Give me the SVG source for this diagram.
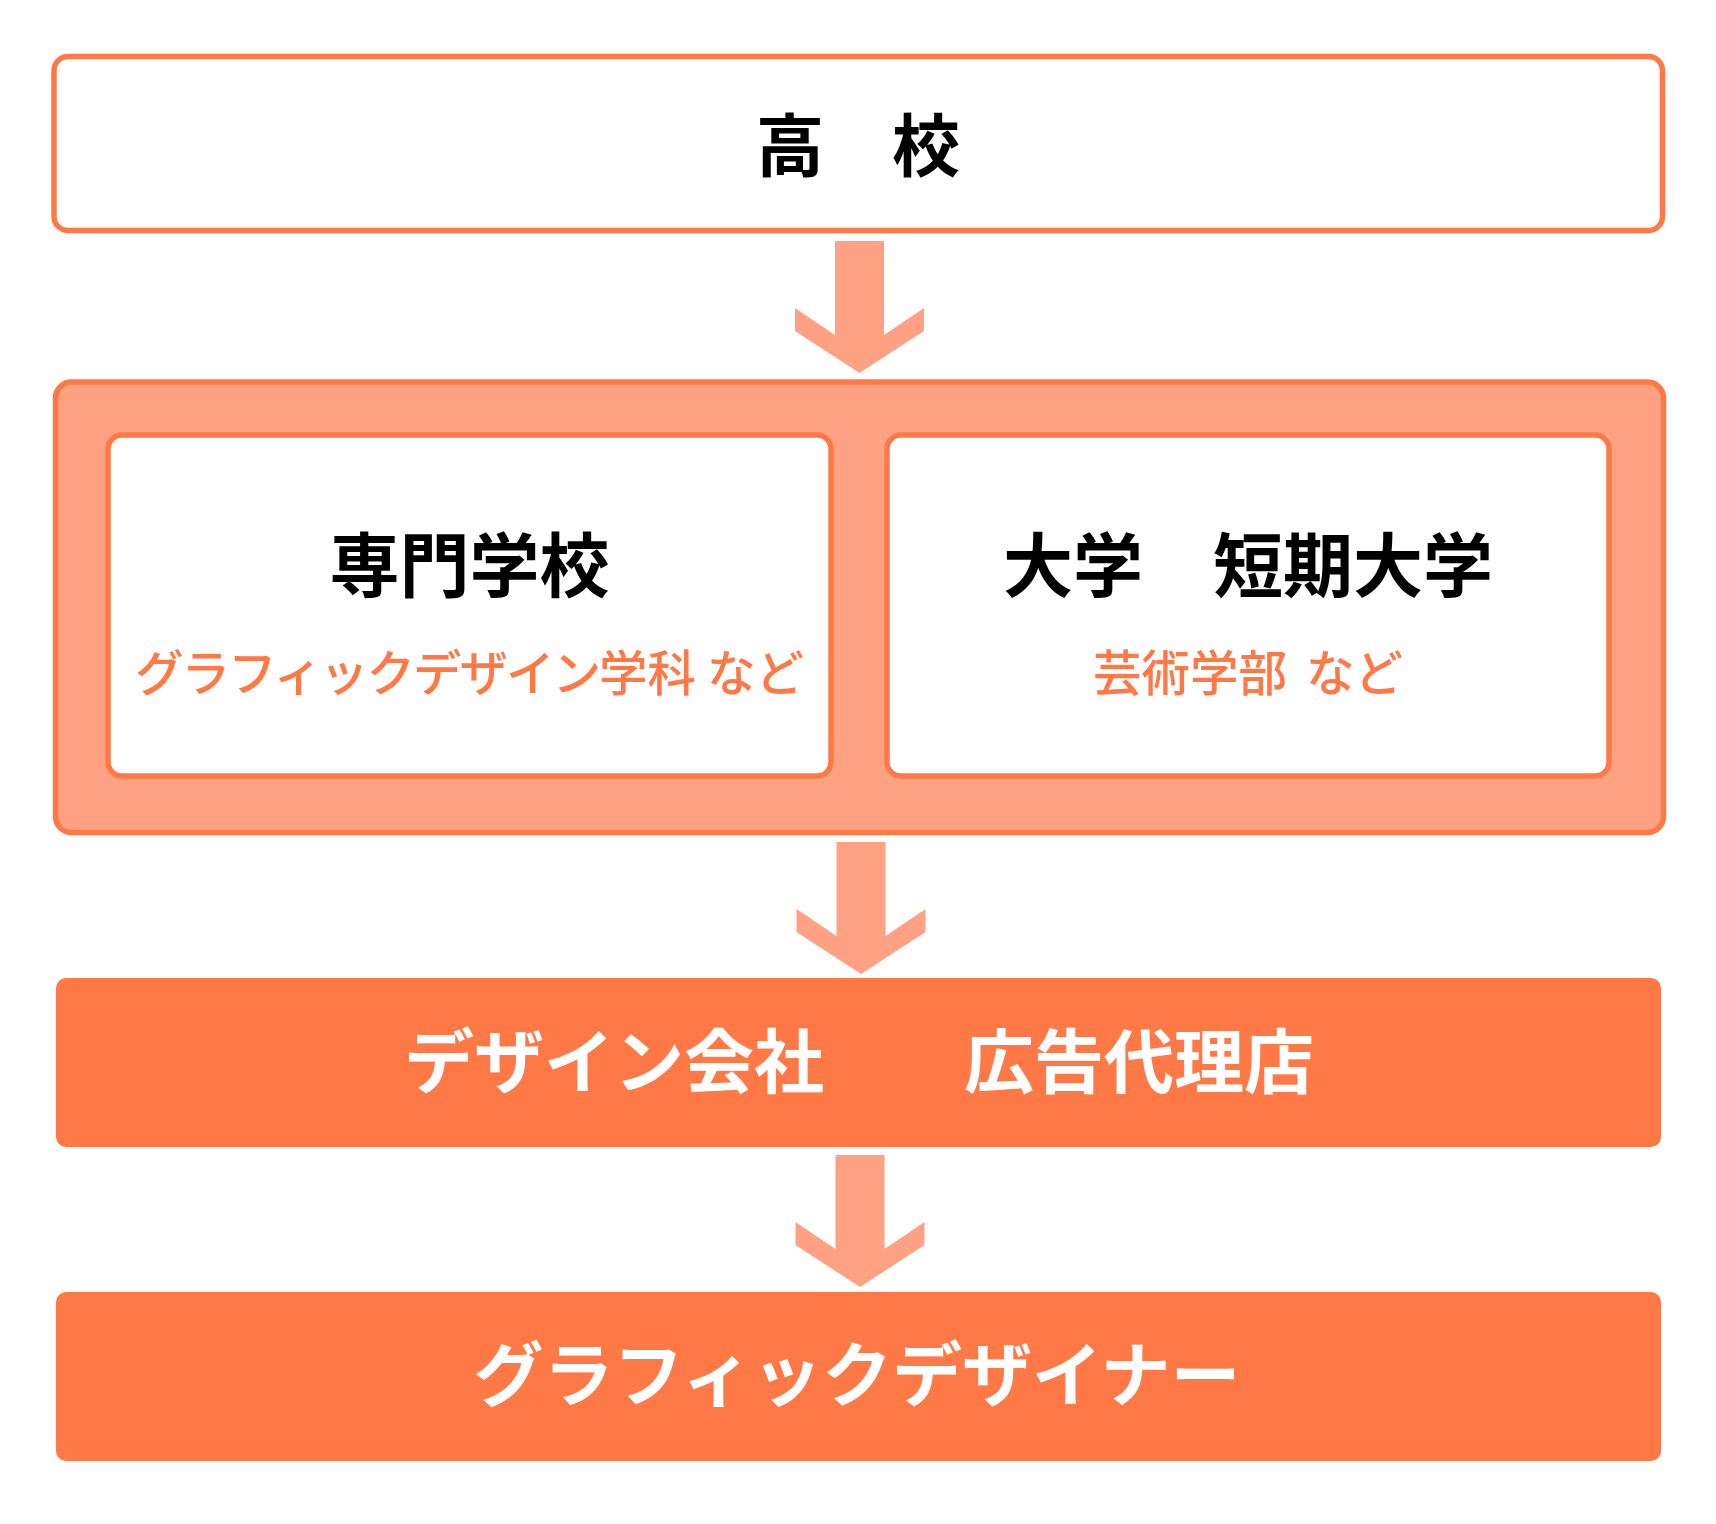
<svg xmlns="http://www.w3.org/2000/svg" xmlns:xlink="http://www.w3.org/1999/xlink" width="1716" height="1524" viewBox="0 0 1716 1524">
  <style>
    .outline { fill: #FFFFFF; stroke: #FF7947; stroke-width: 5.5; }
    .group { fill: #FFA182; stroke: #FF7947; stroke-width: 5.5; }
    .solid { fill: #FF7947; }
    .arrow { fill: #FFA182; }
    .head { font-family: "Noto Sans CJK JP", "Noto Sans CJK SC", sans-serif; font-weight: 700; font-size: 70px; text-anchor: middle; fill: #000000; }
    .title { font-size: 68px; }
    .sub { font-family: "Noto Sans CJK JP", "Noto Sans CJK SC", sans-serif; font-weight: 500; font-size: 48.5px; text-anchor: middle; fill: #FF7947; }
    .kana { letter-spacing: -2px; }
    .white { fill: #FFFFFF; }
  </style>
  <defs>
    <path id="arrowShape" d="M -24.5 0 H 24.5 V 94 L 64.5 67 V 90 L 0 132 L -64.5 90 V 67 L -24.5 94 Z"/>
  </defs>
  <rect width="1716" height="1524" fill="#FFFFFF"/>

  <g id="node-koukou">
    <rect class="outline" x="54" y="56.5" width="1608.5" height="174" rx="14"/>
    <text class="head title" x="858" y="170.5">高　校</text>
  </g>

  <g id="node-group">
    <rect class="group" x="55.5" y="382" width="1608" height="450.5" rx="16"/>
  </g>

  <g id="node-senmon">
    <rect class="outline" x="108" y="435" width="723" height="341" rx="14"/>
    <text class="head" x="469.5" y="592">専門学校</text>
    <text class="sub" x="469.5" y="691"><tspan class="kana">グラフィックデザイン</tspan>学科 など</text>
  </g>

  <g id="node-daigaku">
    <rect class="outline" x="887" y="435" width="722" height="341" rx="14"/>
    <text class="head" x="1248" y="592">大学　短期大学</text>
    <text class="sub" x="1248" y="691">芸術学部 <tspan dx="8">など</tspan></text>
  </g>

  <g id="node-company">
    <rect class="solid" x="56" y="978" width="1605" height="169" rx="10"/>
    <text class="head white" x="859" y="1088">デザイン会社　　広告代理店</text>
  </g>

  <g id="node-designer">
    <rect class="solid" x="56" y="1292" width="1605" height="169" rx="10"/>
    <text class="head white" x="857" y="1401">グラフィックデザイナー</text>
  </g>

  <g id="connectors">
    <use xlink:href="#arrowShape" class="arrow" transform="translate(859.5 241)"/>
    <use xlink:href="#arrowShape" class="arrow" transform="translate(861 842)"/>
    <use xlink:href="#arrowShape" class="arrow" transform="translate(860 1155)"/>
  </g>
</svg>
